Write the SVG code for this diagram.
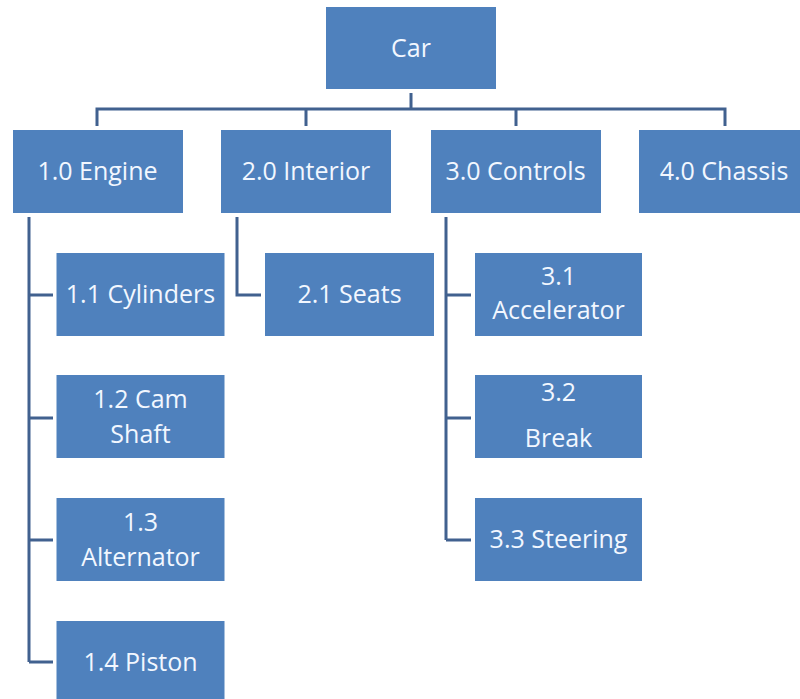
<svg xmlns="http://www.w3.org/2000/svg" width="800" height="699" viewBox="0 0 800 699">
<style>
.box{fill:#4F81BD;}
.lbl{font-family:"Open Sans","Liberation Sans",sans-serif;font-size:25px;fill:#F2F7FF;text-anchor:middle;}
.con{fill:none;stroke:#41618F;stroke-width:3;}
</style>
<rect width="800" height="699" fill="#FFFFFF"/>
<g id="connectors">
<path class="con" d="M411 93 V109 M97 126 V109 H725 V126 M306 109 V126 M516 109 V126"/>
<path class="con" d="M29 217 V662 M29 295 H53 M29 418 H53 M29 540 H53 M29 662 H53"/>
<path class="con" d="M237 217 V295 H261"/>
<path class="con" d="M446 217 V540 M446 295 H471 M446 418 H471 M446 540 H471"/>
</g>
<g id="car"><rect class="box" x="326" y="7" width="170" height="82"/><text class="lbl" x="411" y="57">Car</text></g>
<g id="engine"><rect class="box" x="13" y="130" width="170" height="83"/><text class="lbl" x="97.5" y="180">1.0 Engine</text></g>
<g id="interior"><rect class="box" x="221" y="130" width="170" height="83"/><text class="lbl" x="306" y="180">2.0 Interior</text></g>
<g id="controls"><rect class="box" x="431" y="130" width="170" height="83"/><text class="lbl" x="515.5" y="180">3.0 Controls</text></g>
<g id="chassis"><rect class="box" x="639" y="130" width="170" height="83"/><text class="lbl" x="724" y="180">4.0 Chassis</text></g>
<g id="cylinders"><rect class="box" x="56.5" y="253" width="168" height="83"/><text class="lbl" x="140.5" y="303">1.1 Cylinders</text></g>
<g id="camshaft"><rect class="box" x="56.5" y="375" width="168" height="83"/><text class="lbl" x="140.5" y="408">1.2 Cam</text><text class="lbl" x="140.5" y="443">Shaft</text></g>
<g id="alternator"><rect class="box" x="56.5" y="498" width="168" height="83"/><text class="lbl" x="140.5" y="531">1.3</text><text class="lbl" x="140.5" y="566">Alternator</text></g>
<g id="piston"><rect class="box" x="56.5" y="621" width="168" height="84"/><text class="lbl" x="140.5" y="671">1.4 Piston</text></g>
<g id="seats"><rect class="box" x="265" y="253" width="169" height="83"/><text class="lbl" x="349.5" y="303">2.1 Seats</text></g>
<g id="accelerator"><rect class="box" x="475" y="253" width="167" height="83"/><text class="lbl" x="558.5" y="285">3.1</text><text class="lbl" x="558.5" y="319">Accelerator</text></g>
<g id="break"><rect class="box" x="475" y="375" width="167" height="83"/><text class="lbl" x="558.5" y="401">3.2</text><text class="lbl" x="558.5" y="447">Break</text></g>
<g id="steering"><rect class="box" x="475" y="498" width="167" height="83"/><text class="lbl" x="558.5" y="548">3.3 Steering</text></g>
</svg>
